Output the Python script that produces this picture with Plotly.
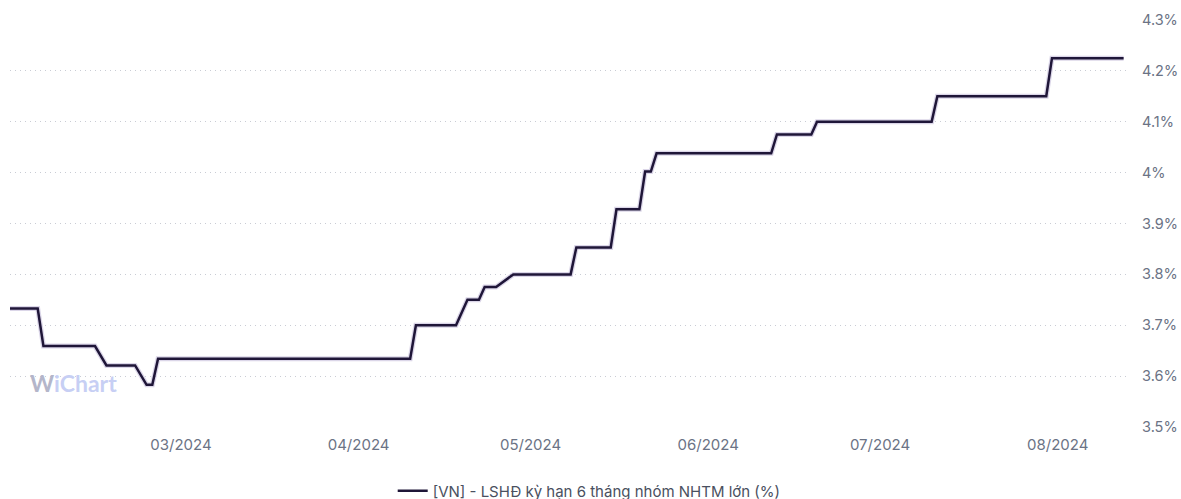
import plotly.graph_objects as go

# 6-month deposit rate, large commercial bank group (%), step series
dates = [
    "2024-01-31", "2024-02-05", "2024-02-06", "2024-02-15", "2024-02-17",
    "2024-02-22", "2024-02-24", "2024-02-25", "2024-02-26", "2024-04-10",
    "2024-04-11", "2024-04-18", "2024-04-20", "2024-04-22", "2024-04-23",
    "2024-04-25", "2024-04-28", "2024-05-08", "2024-05-09", "2024-05-15",
    "2024-05-16", "2024-05-20", "2024-05-21", "2024-05-22", "2024-05-23",
    "2024-06-12", "2024-06-13", "2024-06-19", "2024-06-20", "2024-07-10",
    "2024-07-11", "2024-07-30", "2024-07-31", "2024-08-12 12:00",
]
rates = [
    3.733, 3.733, 3.659, 3.659, 3.621,
    3.621, 3.583, 3.583, 3.634, 3.634,
    3.700, 3.700, 3.750, 3.750, 3.775,
    3.775, 3.800, 3.800, 3.853, 3.853,
    3.928, 3.928, 4.002, 4.002, 4.038,
    4.038, 4.075, 4.075, 4.100, 4.100,
    4.150, 4.150, 4.225, 4.225,
]

series_name = "[VN] - LSHĐ kỳ hạn 6 tháng nhóm NHTM lớn (%)"
month_ticks = ["2024-03-01", "2024-04-01", "2024-05-01", "2024-06-01", "2024-07-01", "2024-08-01"]
month_labels = ["03/2024", "04/2024", "05/2024", "06/2024", "07/2024", "08/2024"]
y_ticks = [3.5, 3.6, 3.7, 3.8, 3.9, 4.0, 4.1, 4.2, 4.3]
y_labels = ["3.5%", "3.6%", "3.7%", "3.8%", "3.9%", "4%", "4.1%", "4.2%", "4.3%"]

fig = go.Figure()

# soft shadow under the main line
fig.add_trace(go.Scatter(
    x=dates, y=rates, mode="lines",
    line=dict(color="rgba(90,70,150,0.22)", width=5),
    hoverinfo="skip", showlegend=False,
))
fig.add_trace(go.Scatter(
    x=dates, y=rates, mode="lines", name=series_name,
    line=dict(color="#1f1638", width=2.5),
))

fig.update_layout(
    width=1181, height=499,
    margin=dict(l=10, r=55, t=20, b=72, autoexpand=False),
    paper_bgcolor="white", plot_bgcolor="white",
    font=dict(family="Inter, Roboto, sans-serif", size=15, color="#6b7385"),
    showlegend=True,
    legend=dict(
        orientation="h", x=0.519, xanchor="center", y=-0.157, yanchor="middle",
        font=dict(size=15, color="#4a5060"),
    ),
    xaxis=dict(
        type="date",
        range=["2024-01-31 04:00", "2024-08-12 22:00"],
        tickvals=month_ticks, ticktext=month_labels,
        showgrid=False, zeroline=False, showline=False,
        ticks="", ticklabelstandoff=7,
        tickfont=dict(size=15, color="#6b7385"),
    ),
    yaxis=dict(
        side="right",
        range=[3.5, 4.3],
        tickvals=y_ticks, ticktext=y_labels,
        showgrid=True, gridcolor="#c9ccd4", griddash="1px,4px", gridwidth=1,
        zeroline=False, showline=False, ticks="",
        ticklabelstandoff=15,
        tickfont=dict(size=14.5, color="#6b7385"),
    ),
    annotations=[
        dict(
            x=0.016, y=0.108, xref="paper", yref="paper",
            xanchor="left", yanchor="middle", showarrow=False,
            text="<b><span style='color:#b4b6ca'>W</span><span style='color:#c7cff4'>iChart</span></b>",
            font=dict(family="Lato, sans-serif", size=23),
        )
    ],
)

fig.write_html("out.html")
